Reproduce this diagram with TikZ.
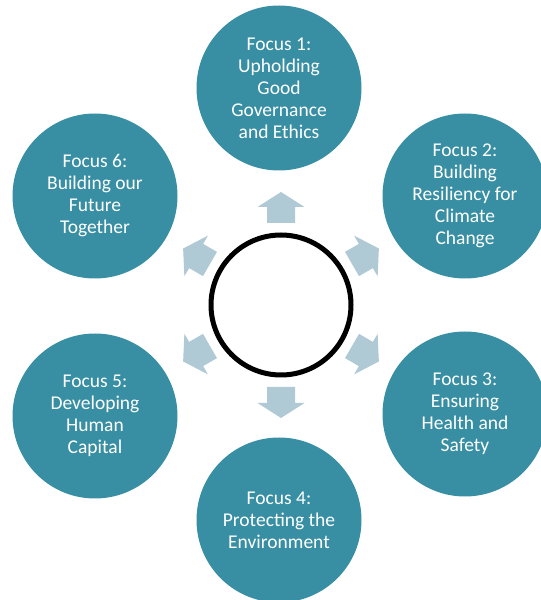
\documentclass[tikz,border=0pt]{standalone}
\usepackage{fontspec}
\setmainfont{Carlito}
\usetikzlibrary{calc}
\definecolor{tealc}{RGB}{56,143,163}
\definecolor{arrowc}{RGB}{176,202,213}
\begin{document}
\begin{tikzpicture}[x=1pt,y=1pt,
  focus/.style={circle, fill=tealc, draw=none, minimum size=165pt, inner sep=0pt,
    text=white, align=center, font=\fontsize{19.5}{22}\selectfont},
  ring/.style={circle, draw=black, line width=5pt, minimum size=140pt, inner sep=0pt},
  arrowshape/.style={fill=arrowc}]
\useasboundingbox (0,0) rectangle (541,600);
\clip (0,0) rectangle (541,600);
\coordinate (c) at (281,295);
\node[ring] (hub) at (c) {};
\foreach \a in {90,30,-30,-90,-150,150}{
  \fill[arrowshape, shift={(c)}, rotate=\a]
    (82,-14) -- (98,-14) -- (98,-23.5) -- (113,0) -- (98,23.5) -- (98,14) -- (82,14) -- cycle;
}
\node[focus] (f1) at ($(c)+(-2,217)$) {Focus 1:\\Upholding\\Good\\Governance\\and Ethics};
\node[focus] (f2) at ($(c)+(184,109)$) {Focus 2:\\Building\\Resiliency for\\Climate\\Change};
\node[focus] (f3) at ($(c)+(184,-109)$) {Focus 3:\\Ensuring\\Health and\\Safety};
\node[focus] (f4) at ($(c)+(-2,-215)$) {Focus 4:\\Protecting the\\Environment};
\node[focus] (f5) at ($(c)+(-186,-111)$) {Focus 5:\\Developing\\Human\\Capital};
\node[focus] (f6) at ($(c)+(-186,109)$) {Focus 6:\\Building our\\Future\\Together};
\end{tikzpicture}
\end{document}
